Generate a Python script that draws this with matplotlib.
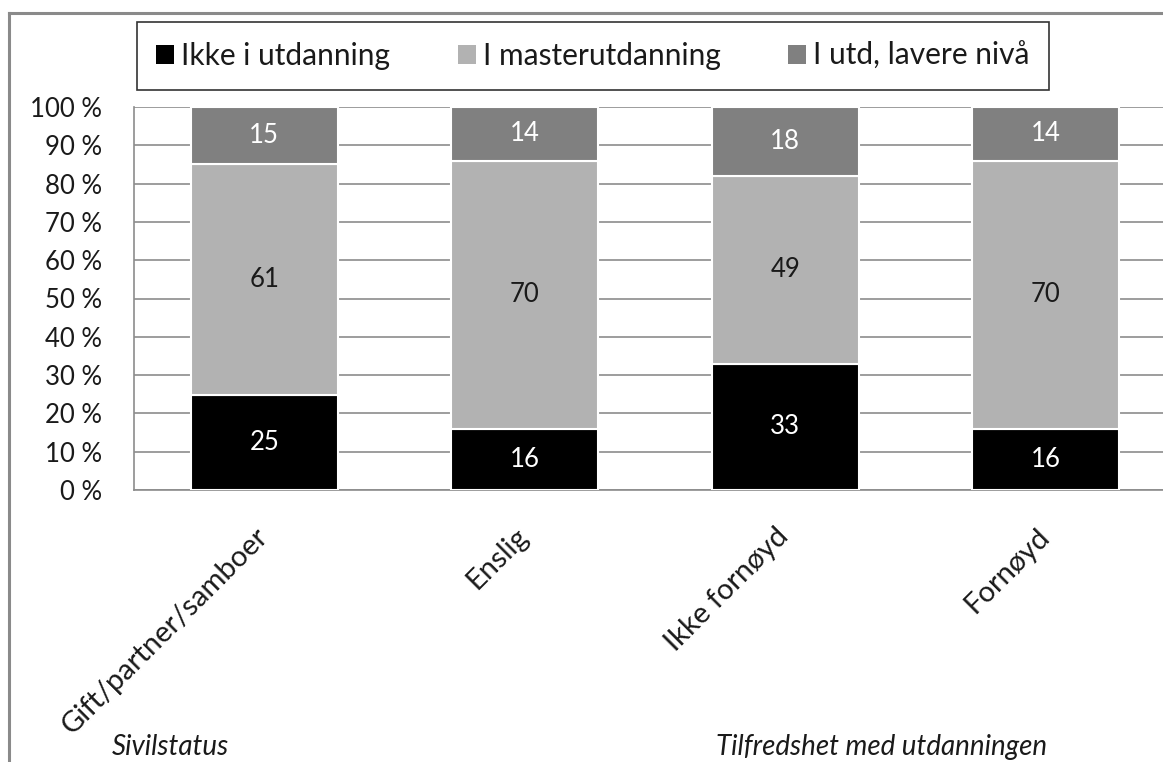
import matplotlib
matplotlib.use("Agg")
import matplotlib.pyplot as plt
from matplotlib.patches import Patch
from matplotlib.lines import Line2D
import matplotlib.transforms as mtrans
import numpy as np

categories = ["Gift/partner/samboer", "Enslig", "Ikke fornøyd", "Fornøyd"]
series_names = ["Ikke i utdanning", "I masterutdanning", "I utd, lavere nivå"]
ikke_i_utdanning = [25, 16, 33, 16]
i_masterutdanning = [61, 70, 49, 70]
i_utd_lavere = [15, 14, 18, 14]
group_labels = ["Sivilstatus", "Tilfredshet med utdanningen"]
y_ticks = [0, 10, 20, 30, 40, 50, 60, 70, 80, 90, 100]

colors = ["#000000", "#b2b2b2", "#808080"]
text_colors = ["white", "#1a1a1a", "white"]

plt.rcParams['font.family'] = ['Lato', 'DejaVu Sans']
FS_TICK = 18.5
FS_DATA = 18.5
FS_LEG = 21.5
FS_X = 21
FS_GRP = 20

W, H = 1163, 762
fig = plt.figure(figsize=(W / 100, H / 100), dpi=100)

def px(x, y):
    return x / W, 1 - y / H

left, top = px(134, 107)
_, bottom = px(0, 490)
right = 1176 / W
ax = fig.add_axes([left, bottom, right - left, top - bottom])

series = [ikke_i_utdanning, i_masterutdanning, i_utd_lavere]
totals = np.sum(np.array(series, dtype=float), axis=0)
x = np.arange(len(categories))
base = np.zeros(len(categories))
for vals, col, tc in zip(series, colors, text_colors):
    pct = np.array(vals) / totals * 100
    ax.bar(x, pct, bottom=base, width=0.565, color=col, edgecolor="white",
           linewidth=1.5, zorder=3)
    for xi, b, p, v in zip(x, base, pct, vals):
        ax.text(xi, b + p / 2, f"{v}", ha="center", va="center",
                color=tc, fontsize=FS_DATA, zorder=4)
    base += pct

ax.set_xlim(-0.5, 3.5)
ax.set_ylim(0, 100)
ax.set_yticks(y_ticks)
ax.set_yticklabels([f"{t} %" for t in y_ticks], fontsize=FS_TICK, color="#1a1a1a")
ax.yaxis.grid(True, color="#8c8c8c", linewidth=1.2, zorder=0)
ax.set_axisbelow(True)
ax.tick_params(axis="y", length=0, pad=23)
ax.tick_params(axis="x", length=0, pad=24)
ax.set_xticks(x)
ax.set_xticklabels(categories, rotation=45, ha="right", rotation_mode="anchor",
                   fontsize=FS_X, color="#1a1a1a")
for lbl in ax.get_xticklabels():
    lbl.set_transform(lbl.get_transform() + mtrans.ScaledTranslation(-0.10, 0, fig.dpi_scale_trans))
for s in ["top", "right"]:
    ax.spines[s].set_visible(False)
for s in ["left", "bottom"]:
    ax.spines[s].set_color("#8c8c8c")
    ax.spines[s].set_linewidth(1.2)

# group labels
fig.text(170 / W, 1 - 760 / H, group_labels[0], ha="center", va="bottom",
         fontsize=FS_GRP, style="italic", color="#1a1a1a")
fig.text(882 / W, 1 - 760 / H, group_labels[1], ha="center", va="bottom",
         fontsize=FS_GRP, style="italic", color="#1a1a1a")

# legend
handles = [Patch(facecolor=c, edgecolor="none") for c in colors]
lx, ly = px(593, 56)
leg = fig.legend(handles, series_names, loc="center", bbox_to_anchor=(lx, ly),
                 ncol=3, fontsize=FS_LEG, frameon=True, fancybox=False,
                 handlelength=0.6, handleheight=0.6, handletextpad=0.25,
                 columnspacing=2.25, borderpad=0.65, borderaxespad=0,
                 edgecolor="black")
leg.get_frame().set_linewidth(1.2)
for t in leg.get_texts():
    t.set_color("#1a1a1a")

# outer chart frame (cropped)
fx0, fy0 = px(9, 13)
fig.add_artist(Line2D([fx0, fx0], [0, fy0], color="#8a8a8a", linewidth=2.2))
fig.add_artist(Line2D([fx0, 1.0], [fy0, fy0], color="#8a8a8a", linewidth=2.2))

fig.savefig("out.png", dpi=100)
